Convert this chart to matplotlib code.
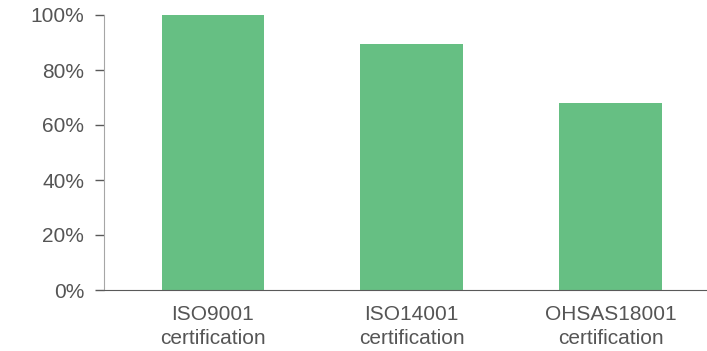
import numpy as np
import matplotlib.pyplot as plt
from matplotlib.ticker import FuncFormatter

# data
categories = ["ISO9001\ncertification", "ISO14001\ncertification", "OHSAS18001\ncertification"]
values = [100.0, 89.5, 68.0]
yticks = [0, 20, 40, 60, 80, 100]

bar_color = "#66bf83"
text_color = "#555555"

plt.rcParams["font.family"] = ["Liberation Sans", "DejaVu Sans"]

fig = plt.figure(figsize=(7.07, 3.51), dpi=100)
# axes box in figure fractions (left spine ~104px, bottom ~290px, top ~15px)
ax = fig.add_axes([104.3 / 707, (351 - 290) / 351, 1 - 104.3 / 707, 275 / 351])

x = np.arange(len(categories))
ax.bar(x, values, width=0.516, color=bar_color, zorder=2)

ax.set_ylim(0, 100)
ax.set_xlim(-0.546, 2.485)
ax.set_yticks(yticks)
ax.yaxis.set_major_formatter(FuncFormatter(lambda v, p: f"{v:.0f}%"))
ax.set_xticks(x)
ax.set_xticklabels(categories)

ax.spines["top"].set_visible(False)
ax.spines["right"].set_visible(False)
ax.spines["left"].set_color("#a6a6a6")
ax.spines["bottom"].set_color("#595959")
ax.spines["bottom"].set_zorder(3)

ax.tick_params(axis="y", length=6.5, width=1, color="#595959",
               labelsize=15, labelcolor=text_color, pad=8)
ax.tick_params(axis="x", length=0, labelsize=15, labelcolor=text_color, pad=11)
for lbl in ax.get_xticklabels():
    lbl.set_linespacing(1.32)

fig.savefig("out.png", dpi=100)
